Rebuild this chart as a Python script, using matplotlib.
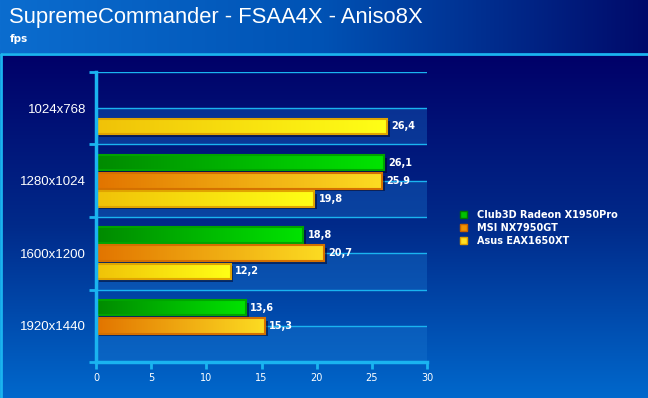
import numpy as np
import matplotlib
matplotlib.use('Agg')
import matplotlib.pyplot as plt
from matplotlib.patches import Patch
import matplotlib.patheffects as pe
from matplotlib.colors import LinearSegmentedColormap

categories = ['1024x768', '1280x1024', '1600x1200', '1920x1440']
series_names = ['Club3D Radeon X1950Pro', 'MSI NX7950GT', 'Asus EAX1650XT']
club3d = [np.nan, 26.1, 18.8, 13.6]
msi = [np.nan, 25.9, 20.7, 15.3]
asus = [26.4, 19.8, 12.2, np.nan]
x_ticks = [0, 5, 10, 15, 20, 25, 30]
title = 'SupremeCommander - FSAA4X - Aniso8X'
subtitle = 'fps'

W, H = 648, 398
CYAN = '#1ab4f0'
fig = plt.figure(figsize=(W / 100, H / 100), dpi=100)

# background
bg = fig.add_axes([0, 0, 1, 1], zorder=-10)
bg.set_xlim(0, W)
bg.set_ylim(H, 0)
bg.axis('off')
cm_h = LinearSegmentedColormap.from_list('h', ['#0b6dcf', '#0052b4', '#000a6a'])
bg.imshow(np.linspace(0, 1, 256)[None, :], cmap=cm_h, extent=(0, W, 53, 0), aspect='auto')
cm_m = LinearSegmentedColormap.from_list('m', ['#000068', '#002a8a', '#0068cc'])
bg.imshow(np.linspace(0, 1, 256)[:, None], cmap=cm_m, extent=(0, W, H, 53),
          aspect='auto', origin='upper')
bg.plot([0, W], [53.5, 53.5], color=CYAN, lw=2, solid_capstyle='butt')
bg.plot([1, 1], [53, H], color=CYAN, lw=2, solid_capstyle='butt')
bg.set_xlim(0, W)
bg.set_ylim(H, 0)

fig.text(9 / W, 1 - 18 / H, title, color='white', fontsize=15.8,
         family='Liberation Sans', va='center', ha='left')
fig.text(10 / W, 1 - 39 / H, subtitle, color='white', fontsize=7.5,
         fontweight='bold', family='DejaVu Sans', va='center', ha='left')

# main axes
ax = fig.add_axes([96 / W, (H - 362) / H, 331 / W, 290 / H])
ax.patch.set_alpha(0)
ax.set_xlim(0, 30)
ax.set_ylim(4, 0)

for i in range(len(categories)):
    ax.axhspan(i + 0.5, i + 1, color='#1a78d0', alpha=0.35, lw=0, zorder=0)
for y in np.arange(0, 4, 0.5):
    ax.axhline(y, color=CYAN, lw=1.0, zorder=1)

for s in ['top', 'right']:
    ax.spines[s].set_visible(False)
for s in ['left', 'bottom']:
    ax.spines[s].set_color(CYAN)
    ax.spines[s].set_linewidth(2.5)
    ax.spines[s].set_zorder(6)

ax.set_yticks(np.arange(0, 5))
ax.set_yticklabels([])
ax.set_yticks(np.arange(len(categories)) + 0.5, minor=True)
ax.set_yticklabels(categories, minor=True, color='white', fontsize=9.5,
                   family='Liberation Sans')
ax.tick_params(axis='y', which='major', length=5, width=2, color=CYAN)
ax.tick_params(axis='y', which='minor', length=0, pad=7)
ax.set_xticks(x_ticks)
ax.set_xticklabels([str(t) for t in x_ticks], color='white', fontsize=7,
                   family='DejaVu Sans')
ax.tick_params(axis='x', length=5, width=2, color=CYAN, pad=3)

series = [club3d, msi, asus]
grads = [('#008a00', '#00e400'), ('#e27400', '#fcdc22'), ('#f0c208', '#ffff16')]
edges = ['#00a400', '#d47000', '#e0a400']
offsets = [-0.25, 0.0, 0.25]
bar_h = 0.215
ypos = np.arange(len(categories)) + 0.5
shadow = [pe.SimplePatchShadow(offset=(2, -2), shadow_rgbFace='#000020', alpha=0.5),
          pe.Normal()]

for vals, (c0, c1), ec, off in zip(series, grads, edges, offsets):
    vals = np.asarray(vals, dtype=float)
    ok = ~np.isnan(vals)
    bars = ax.barh(ypos[ok] + off, vals[ok], height=bar_h, color=c1,
                   edgecolor='none', zorder=3, path_effects=shadow)
    cmap = LinearSegmentedColormap.from_list('g', [c0, c1])
    for b in bars:
        x0, y0, w, h = b.get_x(), b.get_y(), b.get_width(), b.get_height()
        ax.imshow(np.linspace(0, 1, 128)[None, :], cmap=cmap, aspect='auto',
                  extent=(x0, x0 + w, y0 + h, y0), zorder=4, interpolation='bilinear')
    ax.barh(ypos[ok] + off, vals[ok], height=bar_h, fill=False,
            edgecolor=ec, lw=1.5, zorder=5)
    for y, v in zip(ypos[ok] + off, vals[ok]):
        ax.annotate(f'{v:.1f}'.replace('.', ','), (v, y), xytext=(3, 0),
                    textcoords='offset points', va='center', ha='left',
                    color='white', fontsize=7, fontweight='bold', zorder=7)

ax.set_xlim(0, 30)
ax.set_ylim(4, 0)

handles = [Patch(facecolor='#00c400', edgecolor='#007800'),
           Patch(facecolor='#f29200', edgecolor='#c86400'),
           Patch(facecolor='#ffe024', edgecolor='#e0a000')]
fig.legend(handles, series_names, loc='upper left',
           bbox_to_anchor=(456 / W, 1 - 206 / H), frameon=False,
           prop={'weight': 'bold', 'size': 7, 'family': 'DejaVu Sans'},
           labelcolor='white', handlelength=0.75, handleheight=0.75,
           handletextpad=1.0, labelspacing=0.3, borderaxespad=0)

fig.savefig('out.png', dpi=100)
